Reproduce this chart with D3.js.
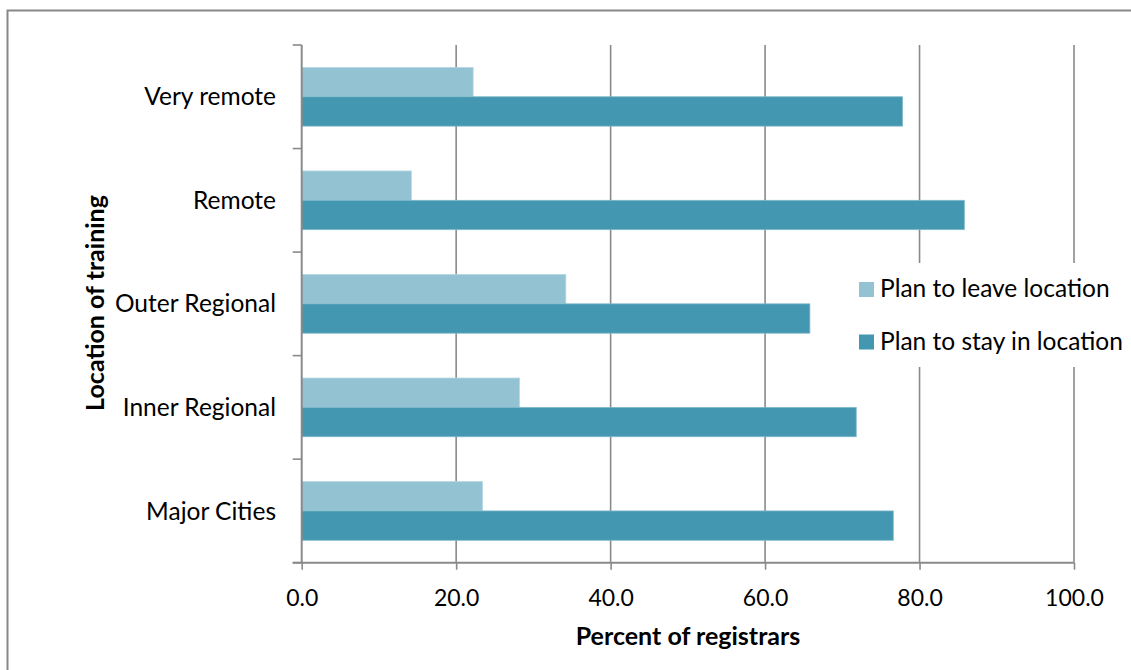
<!DOCTYPE html>
<html>
<head>
<meta charset="utf-8">
<script src="https://cdn.jsdelivr.net/npm/d3@7"></script>
<style>
  html, body { margin: 0; padding: 0; background: #fff; }
  svg { display: block; font-family: Lato, "Open Sans", sans-serif; }
</style>
</head>
<body>
<svg id="chart" width="1131" height="670"></svg>
<script>
// Registrars' intentions by location of training (percent)
const categories = ["Very remote", "Remote", "Outer Regional", "Inner Regional", "Major Cities"];
const seriesNames = ["Plan to leave location", "Plan to stay in location"];
const leaveValues = [22.2, 14.2, 34.2, 28.2, 23.4];
const stayValues  = [77.8, 85.8, 65.8, 71.8, 76.6];
const xTicks = [0, 20, 40, 60, 80, 100];
const colors = ["#93c2d3", "#4397b0"];

const svg = d3.select("#chart");
const plot = { left: 301.7, right: 1074, top: 45, bottom: 562.7 };

// outer frame
svg.append("rect")
  .attr("x", 7.5).attr("y", 10.5)
  .attr("width", 1140).attr("height", 680)
  .attr("fill", "#fff").attr("stroke", "#878787").attr("stroke-width", 2);

const x = d3.scaleLinear().domain([0, 100]).range([plot.left, plot.right]);
const y = d3.scaleBand().domain(categories)
  .range([plot.top, plot.bottom])
  .paddingInner(0.433).paddingOuter(0.2165);
const ySub = d3.scaleBand().domain(seriesNames).range([0, y.bandwidth()]);

const gridColor = "#8a8a8a";

// vertical gridlines
svg.append("g").selectAll("line")
  .data(xTicks.filter(d => d > 0))
  .join("line")
  .attr("x1", d => x(d)).attr("x2", d => x(d))
  .attr("y1", plot.top).attr("y2", plot.bottom)
  .attr("stroke", gridColor).attr("stroke-width", 1.6);

// bars
const rows = categories.map((c, i) => ({ cat: c, values: [leaveValues[i], stayValues[i]] }));
const groups = svg.append("g").selectAll("g")
  .data(rows).join("g")
  .attr("transform", d => `translate(0,${y(d.cat)})`);
groups.selectAll("rect")
  .data(d => d.values.map((v, j) => ({ key: seriesNames[j], value: v, j })))
  .join("rect")
  .attr("x", x(0))
  .attr("y", d => ySub(d.key))
  .attr("width", d => x(d.value) - x(0))
  .attr("height", ySub.bandwidth())
  .attr("fill", d => colors[d.j])
  .attr("stroke", d => d.j === 0 ? "#b4d8e4" : "#7fb9ca")
  .attr("stroke-width", 0.8);

// x axis
const xAxis = d3.axisBottom(x).tickValues(xTicks).tickFormat(d3.format(".1f")).tickSizeOuter(0).tickSize(7);
const gx = svg.append("g").attr("transform", `translate(0,${plot.bottom})`).call(xAxis);
gx.select(".domain").attr("stroke", gridColor).attr("stroke-width", 2).attr("d", `M${plot.left - 9},0H${plot.right}`);
gx.selectAll(".tick line").attr("stroke", gridColor).attr("stroke-width", 1.6);
gx.selectAll(".tick text")
  .attr("y", 0).attr("dy", null)
  .attr("transform", "translate(0,43)")
  .attr("font-size", 23).attr("fill", "#000").attr("font-family", "Lato, sans-serif");

// y axis with ticks at category boundaries
const step = y.step();
const boundaries = categories.map(c => y(c) - step * y.paddingInner() / 2).concat([plot.bottom]);
const gy = svg.append("g");
gy.append("line")
  .attr("x1", plot.left).attr("x2", plot.left)
  .attr("y1", plot.top).attr("y2", plot.bottom)
  .attr("stroke", gridColor).attr("stroke-width", 2);
gy.selectAll("line.tk").data(boundaries).join("line").attr("class", "tk")
  .attr("x1", plot.left - 9).attr("x2", plot.left)
  .attr("y1", d => d).attr("y2", d => d)
  .attr("stroke", gridColor).attr("stroke-width", 1.6);
gy.selectAll("text").data(categories).join("text")
  .attr("x", 276)
  .attr("y", d => y(d) + y.bandwidth() / 2)
  .attr("dy", "0.35em")
  .attr("text-anchor", "end")
  .attr("font-size", 24.5)
  .attr("fill", "#000")
  .text(d => d);

// axis titles
svg.append("text")
  .attr("x", 688).attr("y", 645)
  .attr("text-anchor", "middle")
  .attr("font-size", 25).attr("font-weight", "bold").attr("fill", "#000")
  .text("Percent of registrars");
svg.append("text")
  .attr("transform", "translate(104,303) rotate(-90)")
  .attr("text-anchor", "middle")
  .attr("font-size", 25).attr("font-weight", "bold").attr("fill", "#000")
  .text("Location of training");

// legend with white backing
const legend = svg.append("g").attr("transform", "translate(859,282)");
legend.append("rect")
  .attr("x", -9).attr("y", -19).attr("width", 280).attr("height", 104)
  .attr("fill", "#fff");
const items = legend.selectAll("g.item").data(seriesNames).join("g")
  .attr("class", "item")
  .attr("transform", (d, i) => `translate(0,${i * 52.5})`);
items.append("rect")
  .attr("width", 15).attr("height", 15)
  .attr("fill", (d, i) => colors[i]);
items.append("text")
  .attr("x", 21).attr("y", 15)
  .attr("font-size", 24.5).attr("fill", "#000")
  .text(d => d);
</script>
</body>
</html>
